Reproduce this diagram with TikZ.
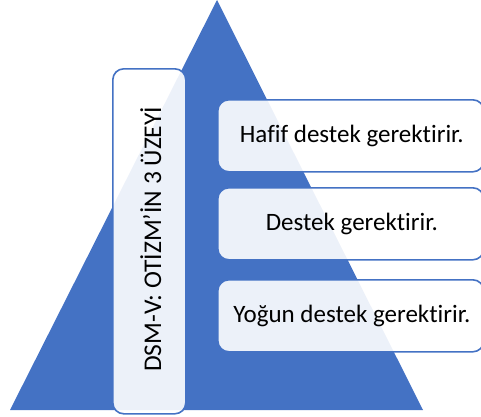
\documentclass[tikz,border=0pt]{standalone}
\usepackage{fontspec}
\setmainfont{Carlito}[Ligatures={NoCommon}]
\definecolor{pblue}{HTML}{4472C4}
\begin{document}
\begin{tikzpicture}[x=1pt,y=-1pt,
  lvl/.style={draw=pblue, line width=1.6pt, fill=white, fill opacity=0.9, text opacity=1, rounded corners=11pt},
  lbl/.style={font=\fontsize{25}{30}\selectfont, text=black}]
\useasboundingbox (0,0) rectangle (481,416);
\clip (0,0) rectangle (481,416);
\fill[pblue] (217,0) -- (423,410) -- (10,410) -- cycle;
\node[lvl, minimum width=73pt, minimum height=345pt, anchor=north west, inner sep=0pt] (side) at (112,68) {};
\node[lbl, rotate=90, font=\fontsize{25.5}{30}\selectfont] (sidet) at ([xshift=1.5pt,yshift=2pt]side.center) {DSM-V: OTİZM’İN 3 ÜZEYİ};
\node[lvl, minimum width=266pt, minimum height=72pt, anchor=north west, inner sep=0pt] (l1) at (217,99) {};
\node[lvl, minimum width=266pt, minimum height=72pt, anchor=north west, inner sep=0pt] (l2) at (217,187) {};
\node[lvl, minimum width=266pt, minimum height=72pt, anchor=north west, inner sep=0pt] (l3) at (217,279) {};
\node[lbl] (t1) at ([xshift=1pt]l1.center) {Hafif destek gerektirir.};
\node[lbl] (t2) at ([xshift=1pt]l2.center) {Destek gerektirir.};
\node[lbl] (t3) at ([xshift=1pt]l3.center) {Yoğun destek gerektirir.};
\end{tikzpicture}
\end{document}
